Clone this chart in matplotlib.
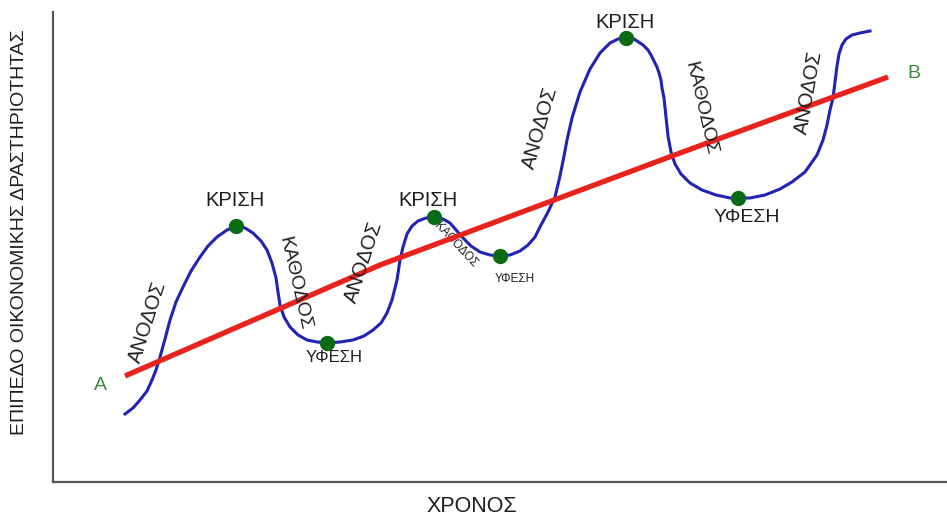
import matplotlib
matplotlib.use('Agg')
import matplotlib.pyplot as plt

plt.rcParams['font.family'] = ['Liberation Sans', 'DejaVu Sans']

# blue business-cycle curve (time, level of activity)
cycle_x = [125, 133, 140, 147, 152, 156, 160, 165, 170, 176, 183, 191, 200, 208, 217, 227,
           236, 245, 253, 261, 267, 272, 276, 278, 280, 284, 290, 298, 307, 317, 327, 340,
           353, 364, 373, 381, 387, 392, 397, 400, 403, 407, 412, 418, 426, 434, 443, 450,
           457, 463, 471, 480, 490, 500, 510, 520, 528, 535, 541, 548, 555, 560, 564, 567,
           572, 580, 590, 600, 610, 618, 626, 634, 643, 648, 651, 654, 657, 659, 661, 662,
           664, 666, 668, 671, 675, 681, 690, 702, 716, 730, 738, 750, 765, 780, 792, 805,
           817, 823, 827, 830, 833, 835, 837, 839, 842, 846, 852, 860, 870]
cycle_y = [68, 74, 82, 91, 102, 112, 125, 143, 162, 180, 195, 211, 225, 236, 245, 252,
           256, 254, 249, 241, 232, 219, 204, 190, 177, 165, 155, 147, 142, 140, 139, 140,
           142, 146, 152, 159, 169, 182, 202, 222, 235, 248, 256, 261, 264, 265, 263, 259,
           251, 244, 236, 230, 227, 226, 227, 231, 237, 245, 257, 270, 285, 306, 326, 342,
           364, 390, 413, 429, 439, 443, 444, 443, 437, 432, 427, 421, 415, 409, 402, 394,
           384, 365, 346, 330, 318, 308, 299, 292, 287, 284, 284, 284, 287, 293, 300, 310,
           327, 342, 357, 372, 384, 400, 416, 428, 437, 443, 447, 449, 451]

# red long-run trend A -> B
trend_x = [125, 380, 680, 888]
trend_y = [106, 217, 329, 405]

# turning points
peak_x = [236, 434, 626]
peak_y = [256, 265, 444]
trough_x = [327, 500, 738]
trough_y = [139, 226, 284]

fig = plt.figure(figsize=(9.47, 5.15), dpi=100)
ax = fig.add_axes([53/947, 33/515, 894/947, 470/515])
ax.set_xlim(53, 947)
ax.set_ylim(0, 470)
ax.set_xticks([])
ax.set_yticks([])
for s in ['top', 'right']:
    ax.spines[s].set_visible(False)
for s in ['left', 'bottom']:
    ax.spines[s].set_color('#555555')
    ax.spines[s].set_linewidth(1.6)

ax.plot(trend_x, trend_y, color='#e8231e', linewidth=3.8, solid_capstyle='butt', zorder=3)
ax.plot(cycle_x, cycle_y, color='#2222b4', linewidth=2.2, solid_joinstyle='round', zorder=2)
ax.plot(peak_x + trough_x, peak_y + trough_y, 'o', color='#0b6b14', markersize=10, zorder=5)

txt = '#1e1e1e'
ax.text(235, 282, 'ΚΡΙΣΗ', fontsize=14.5, color=txt, ha='center', va='center')
ax.text(428, 282, 'ΚΡΙΣΗ', fontsize=14.5, color=txt, ha='center', va='center')
ax.text(625, 460, 'ΚΡΙΣΗ', fontsize=14.5, color=txt, ha='center', va='center')
ax.text(334, 124, 'ΥΦΕΣΗ', fontsize=12, color=txt, ha='center', va='center')
ax.text(515, 203, 'ΥΦΕΣΗ', fontsize=8.5, color=txt, ha='center', va='center')
ax.text(747, 265, 'ΥΦΕΣΗ', fontsize=14, color=txt, ha='center', va='center')

ax.text(148, 160, 'ΑΝΟΔΟΣ', fontsize=14.5, color=txt, rotation=72, ha='center', va='center', rotation_mode='anchor')
ax.text(364, 220, 'ΑΝΟΔΟΣ', fontsize=14.5, color=txt, rotation=72, ha='center', va='center', rotation_mode='anchor')
ax.text(540, 354, 'ΑΝΟΔΟΣ', fontsize=14.5, color=txt, rotation=74, ha='center', va='center', rotation_mode='anchor')
ax.text(809, 390, 'ΑΝΟΔΟΣ', fontsize=14.5, color=txt, rotation=80, ha='center', va='center', rotation_mode='anchor')
ax.text(294, 199, 'ΚΑΘΟΔΟΣ', fontsize=14, color=txt, rotation=-77, ha='center', va='center', rotation_mode='anchor')
ax.text(700, 374, 'ΚΑΘΟΔΟΣ', fontsize=14, color=txt, rotation=-77, ha='center', va='center', rotation_mode='anchor')
ax.text(456, 237, 'ΚΑΘΟΔΟΣ', fontsize=8.5, color=txt, rotation=-47, ha='center', va='center', rotation_mode='anchor', zorder=1)

ax.text(100, 96, 'A', fontsize=14, color='#3a8a3a', ha='center', va='center')
ax.text(914, 409, 'B', fontsize=14, color='#3a8a3a', ha='center', va='center')

fig.text(20/947, 1 - 232/515, 'ΕΠΙΠΕΔΟ ΟΙΚΟΝΟΜΙΚΗΣ ΔΡΑΣΤΗΡΙΟΤΗΤΑΣ', rotation=90,
         fontsize=14, color=txt, ha='center', va='center')
fig.text(472/947, 1 - 506/515, 'ΧΡΟΝΟΣ', fontsize=15.5, color=txt, ha='center', va='center')

fig.savefig('out.png', dpi=100)
